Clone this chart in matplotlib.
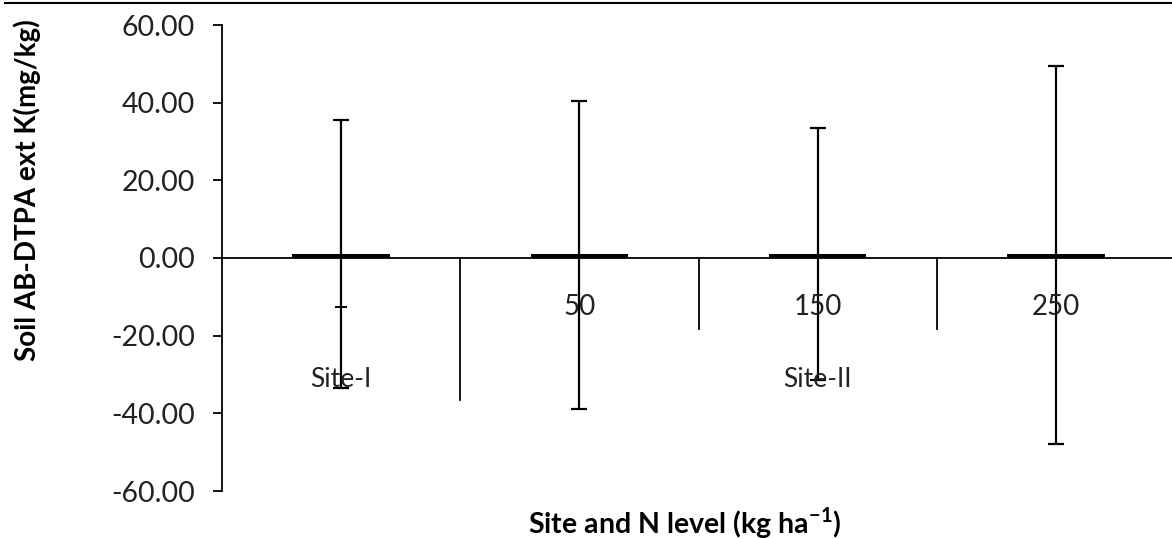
import matplotlib
matplotlib.use("Agg")
import matplotlib.pyplot as plt
import numpy as np

plt.rcParams['font.family'] = ['Lato', 'DejaVu Sans']

# N levels and the site each one belongs to
n_levels = ["", "50", "150", "250"]
site_names = ["Site-I", "Site-II"]
site_label_pos = [0, 2]

# mean extractable K and error limits
means = [1.0, 1.0, 1.0, 1.0]
err_low = [34.5, 39.9, 32.4, 48.9]
err_high = [34.5, 39.4, 32.5, 48.4]
extra_cap_x = [0]
extra_cap_y = [-12.6]

yticks = [-60, -40, -20, 0, 20, 40, 60]

W, H = 1172, 539
fig = plt.figure(figsize=(W / 100, H / 100), dpi=100)
ax = fig.add_axes([222 / W, 48 / H, (1175 - 222) / W, (491 - 25) / H])

x = np.arange(len(means))
ax.bar(x, means, width=0.41, color="black", zorder=2)
ax.errorbar(x, means, yerr=[err_low, err_high], fmt="none", ecolor="black",
            elinewidth=1.6, capsize=6, capthick=1.6, zorder=3)
ax.plot(extra_cap_x, extra_cap_y, marker="_", color="black", markersize=8,
        markeredgewidth=1.4, linestyle="none", zorder=3)

ax.set_xlim(-0.5, 3.5)
ax.set_ylim(-60, 60)
ax.set_yticks(yticks)
ax.set_yticklabels(["%.2f" % v for v in yticks], fontsize=20.5,
                   color="#222222")
ax.tick_params(axis="y", direction="out", length=6.5, width=1.3, pad=13)

for side in ("top", "right"):
    ax.spines[side].set_visible(False)
ax.spines["left"].set_linewidth(1.3)
ax.spines["bottom"].set_position(("data", 0))
ax.spines["bottom"].set_linewidth(1.3)
ax.set_xticks([])

# category separators hanging below the axis
sep_x = [0.5, 1.5, 2.5]
sep_len = [36.6, 18.3, 18.3]
for sx, sl in zip(sep_x, sep_len):
    ax.plot([sx, sx], [0, -sl], color="black", linewidth=1.3, clip_on=False)

for xi, lab in zip(x, n_levels):
    ax.text(xi, -12.6, lab, ha="center", va="center", fontsize=20,
            color="#222222")
for xi, lab in zip(site_label_pos, site_names):
    ax.text(xi, -31.4, lab, ha="center", va="center", fontsize=19,
            color="#222222")

fig.text(685 / W, 1 - 523 / H, "Site and N level (kg ha$^{\\mathregular{-1}}$)",
         ha="center", va="center", fontsize=20.5, fontweight="bold")
fig.text(27 / W, 1 - 190 / H, "Soil AB-DTPA ext K(mg/kg)", rotation=90,
         ha="center", va="center", fontsize=20, fontweight="bold")

# border line along the top edge
fig.add_artist(plt.Line2D([5 / W, 1], [1 - 3 / H, 1 - 3 / H], color="black",
                          linewidth=1.5))

fig.savefig("out.png", dpi=100)
